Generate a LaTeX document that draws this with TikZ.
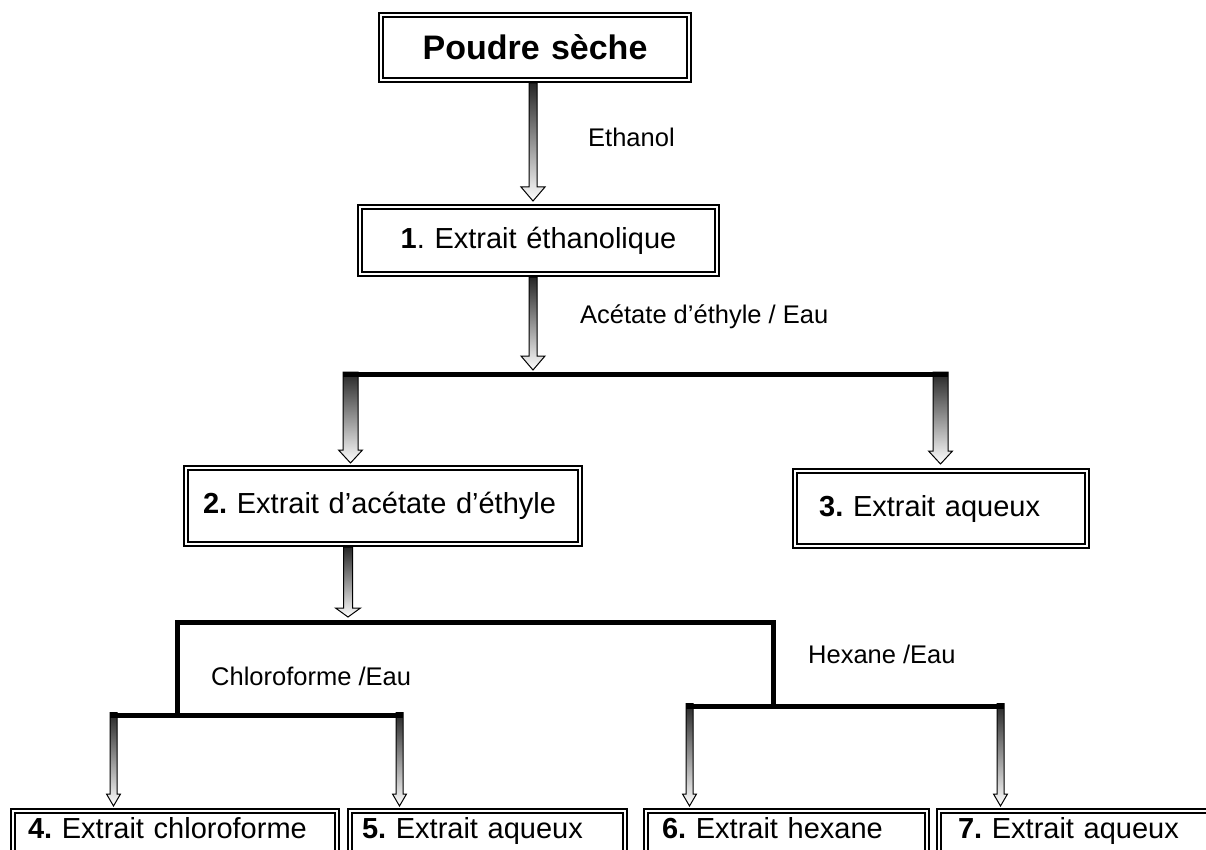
\documentclass[tikz,border=0pt]{standalone}
\usepackage{fontspec}
\setmainfont{Liberation Sans}
\usetikzlibrary{calc}

\newcommand\titlefont{\fontsize{34}{38}\selectfont\bfseries\frenchspacing}
\newcommand\boxfont{\fontsize{29}{33}\selectfont\frenchspacing}
\newcommand\labfont{\fontsize{25.5}{29}\selectfont\frenchspacing}

\tikzset{
  extbox/.style={draw=black, line width=2pt, double=white, double distance=2.4pt,
    rectangle, inner ysep=0pt, outer sep=3.2pt, fill=white, font=\boxfont},
  lowrow/.style={text height=21pt, text depth=24pt},
  hollowarrow/.style={draw=black, line width=1pt, line join=miter,
    top color=black!85, bottom color=white},
  bracketbar/.style={draw=black, line width=5pt, line join=miter, line cap=butt},
  solvent/.style={anchor=west, inner sep=0pt, font=\labfont}
}

% box with its outer edge at (x1,y1)-(x2,y2); #6 = side padding, #7 = options
\newcommand\extract[8]{%
  \pgfmathsetmacro\bw{#4-#2-6.4}%
  \pgfmathsetmacro\bh{#5-#3-6.4}%
  \pgfmathsetmacro\tw{\bw-2*#6}%
  \node[extbox, minimum width=\bw pt, minimum height=\bh pt, inner xsep=#6pt,
    text width=\tw pt, #7] (#1) at ({(#2+#4)/2},{(#3+#5)/2}) {#8};%
}

% hollow block arrow: x and top from #1, tip height from #2
\newcommand\blockarrow[5]{%
  \path[hollowarrow] let \p1=(#1), \p2=(#2) in
    ({\x1-0.5*#3pt},\y1) -- ({\x1-0.5*#3pt},{\y2+#5pt}) -- ({\x1-0.5*#4pt},{\y2+#5pt})
    -- (\x1,\y2) -- ({\x1+0.5*#4pt},{\y2+#5pt}) -- ({\x1+0.5*#3pt},{\y2+#5pt})
    -- ({\x1+0.5*#3pt},\y1) -- cycle;%
}

\begin{document}
\begin{tikzpicture}[x=1pt, y=-1pt]
\useasboundingbox (0,0) rectangle (1206,850);
\clip (0,0) rectangle (1206,850);

% extraction stages
\extract{p}{378}{12}{692}{83}{10}{align=center, font=\titlefont}{Poudre sèche}
\extract{e1}{357}{204}{720}{277}{10}{align=center}{\textbf{1}. Extrait éthanolique}
\extract{e2}{183}{465}{583}{547}{16.8}{align=left}{\textbf{2.} Extrait d’acétate d’éthyle}
\extract{e3}{792}{468}{1090}{549}{24}{align=left}{\textbf{3.} Extrait aqueux}
\extract{e4}{10}{808}{340}{872}{14.8}{align=left, lowrow}{\textbf{4.} Extrait chloroforme}
\extract{e5}{347}{808}{628}{872}{11.8}{align=left, lowrow}{\textbf{5.} Extrait aqueux}
\extract{e6}{643}{808}{930}{872}{15.8}{align=left, lowrow}{\textbf{6.} Extrait hexane}
\extract{e7}{936}{808}{1260}{872}{18.8}{align=left, lowrow}{\textbf{7.} Extrait aqueux}

% solvents
\node[solvent] (s1) at (588,137) {Ethanol};
\node[solvent] (s2) at (580,317) {Acétate d’éthyle / Eau};
\node[solvent] (s3) at (211,676) {Chloroforme /Eau};
\node[solvent] (s4) at (808,654) {Hexane /Eau};

% junction points of the brackets
\coordinate (b1in) at (533,370);
\coordinate (b1l) at (343,374.5);
\coordinate (b1r) at (948,374.5);
\coordinate (b1ls) at (350.5,372);
\coordinate (b1rs) at (940.5,372);
\coordinate (b2in) at (348,617);
\coordinate (b2l) at (177,622);
\coordinate (b2r) at (773,622);
\coordinate (c1) at (177,715);
\coordinate (c2) at (773,706);
\coordinate (c1l) at (110,715);
\coordinate (c1r) at (403,715);
\coordinate (c2l) at (686,706);
\coordinate (c2r) at (1004,706);
\coordinate (c1ls) at (113.5,712.5);
\coordinate (c1rs) at (399.5,712.5);
\coordinate (c2ls) at (689.5,703.5);
\coordinate (c2rs) at (1000.5,703.5);

% straight arrows
\blockarrow{[xshift=-2pt]p.south}{[yshift=3pt]e1.north}{8}{24}{14}
\blockarrow{[xshift=-5.5pt]e1.south}{b1in}{8}{24}{14}
\blockarrow{[xshift=-35pt]e2.south}{b2in}{9}{25}{9}

% first separation
\blockarrow{b1ls}{[yshift=2pt]e2.north}{15}{24}{13}
\blockarrow{b1rs}{[yshift=4pt]e3.north}{15}{24}{13}
\draw[bracketbar] (b1l) -- (b1r);

% second separation
\blockarrow{c1ls}{[yshift=2pt]e4.north}{7}{14}{12}
\blockarrow{c1rs}{[yshift=2pt]e5.north}{7}{14}{12}
\blockarrow{c2ls}{[yshift=2pt]e6.north}{7}{14}{12}
\blockarrow{c2rs}{[yshift=2pt]e7.north}{7}{14}{12}
\draw[bracketbar] (c1l) -- (c1r);
\draw[bracketbar] (c2l) -- (c2r);
\draw[bracketbar] (c1) -- (b2l) -- (b2r) -- (c2);
\end{tikzpicture}
\end{document}
